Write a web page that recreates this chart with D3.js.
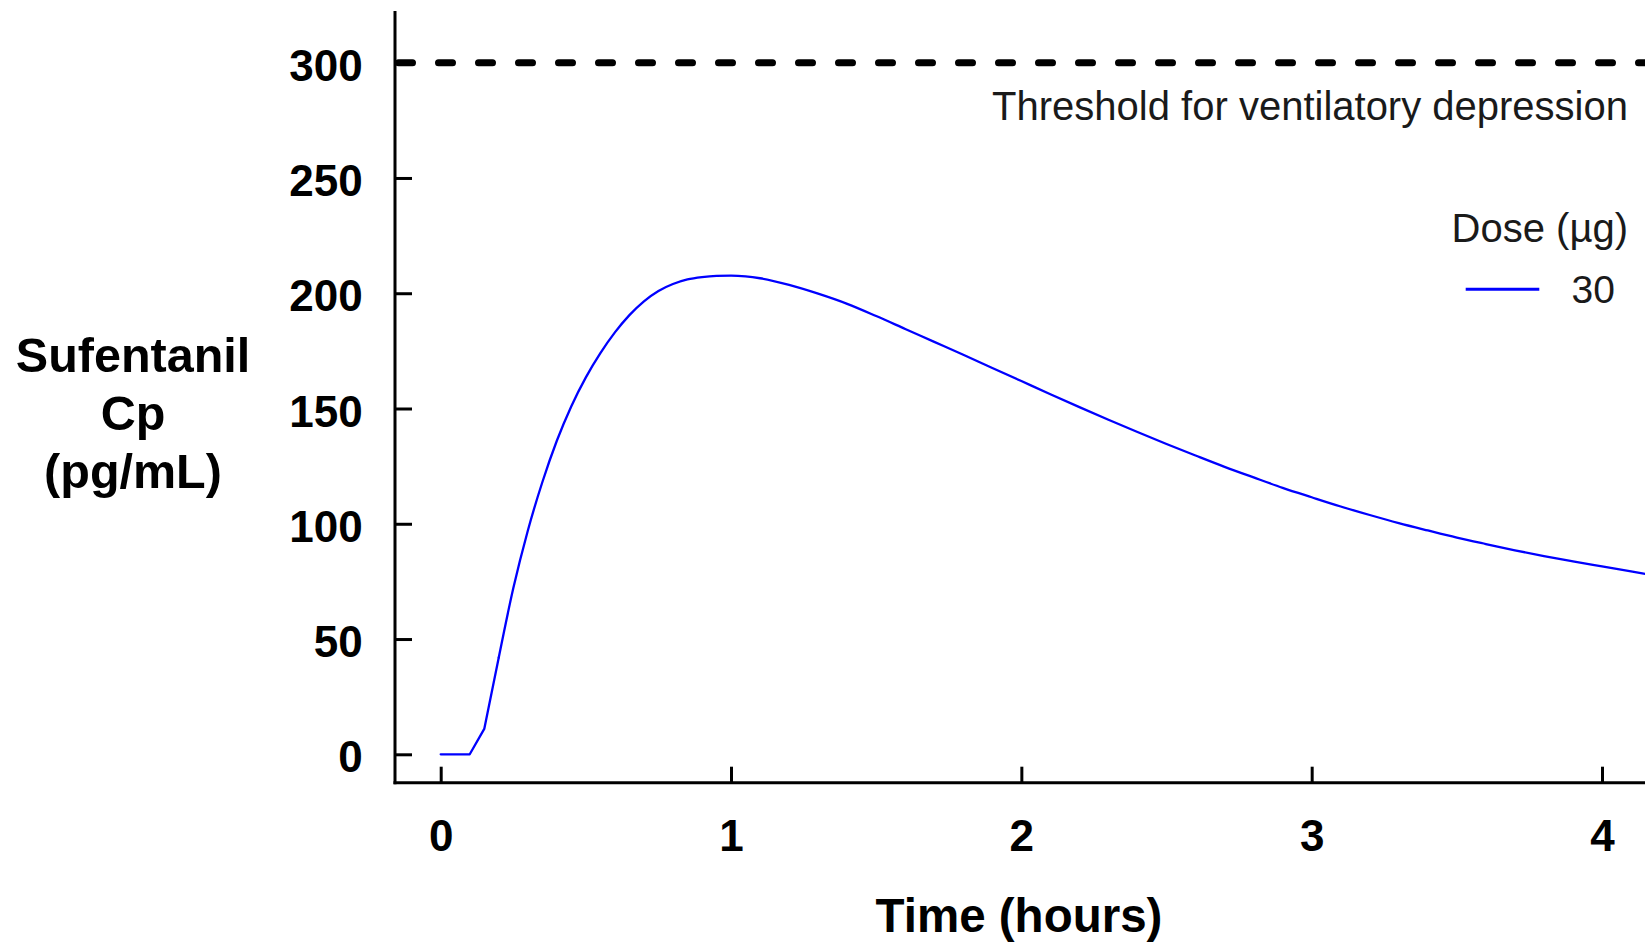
<!DOCTYPE html>
<html>
<head>
<meta charset="utf-8">
<script src="https://cdn.jsdelivr.net/npm/d3@7"></script>
<style>
  html, body { margin: 0; padding: 0; background: #fff; }
  svg { display: block; }
  text { font-family: Arial, "Liberation Sans", sans-serif; }
</style>
</head>
<body>
<svg id="chart" width="1645" height="943"></svg>
<script>
// Simulated sufentanil plasma concentration after a 30 µg dose
const timeHours = [
  0, 0.05, 0.10, 0.15, 0.20, 0.25, 0.30, 0.35, 0.40, 0.45, 0.50, 0.55, 0.60,
  0.65, 0.70, 0.75, 0.80, 0.85, 0.90, 0.95, 1.00, 1.05, 1.10, 1.20, 1.30, 1.40, 1.50,
  1.60, 1.70, 1.80, 1.90, 2.00, 2.10, 2.20, 2.30, 2.40, 2.50, 2.60, 2.70, 2.80,
  2.90, 3.00, 3.10, 3.20, 3.30, 3.40, 3.50, 3.60, 3.70, 3.80, 3.90, 4.00, 4.10, 4.15
];
const concentration = [
  0, 0, 0, 11, 42, 72, 97, 118, 136, 151, 163.5, 174, 183,
  190.5, 196.5, 201, 204, 206, 207, 207.5, 207.6, 207.3, 206.5, 203.6, 199.8, 195.4, 190.1,
  184.5, 178.9, 173.3, 167.6, 161.9, 156.2, 150.6, 145.1, 139.8, 134.6, 129.6, 124.7, 120.1,
  115.6, 111.5, 107.5, 103.8, 100.3, 97.1, 94.0, 91.2, 88.5, 86.0, 83.7, 81.5, 79.3, 78.2
];

const yTickValues = [0, 50, 100, 150, 200, 250, 300];
const xTickValues = [0, 1, 2, 3, 4];
const thresholdValue = 300;
const thresholdLabel = "Threshold for ventilatory depression";
const legendTitle = "Dose (µg)";
const doseLabels = ["30"];
const doseColors = ["#0000ff"];
const yTitleLines = ["Sufentanil", "Cp", "(pg/mL)"];
const xTitle = "Time (hours)";

const svg = d3.select("#chart");

// frame geometry
const axisX = 395;      // vertical axis line
const axisY = 782.7;    // horizontal axis line
const axisTop = 11;
const rightEdge = 1645;

const x = d3.scaleLinear().domain([0, 4]).range([440.7, 1602]);
const y = d3.scaleLinear().domain([0, 300]).range([754.3, 62.7]);

const points = timeHours.map((t, i) => ({ t, v: concentration[i] }));

// y axis
const yAxis = d3.axisLeft(y).tickValues(yTickValues).tickSize(-17).tickPadding(32.3);
const gy = svg.append("g").attr("transform", `translate(${axisX},0)`).call(yAxis);
gy.select(".domain").remove();
gy.selectAll(".tick line").attr("stroke", "#000").attr("stroke-width", 3);
gy.selectAll(".tick text")
  .attr("fill", "#000").attr("dy", "0.4em")
  .style("font-size", "44px").style("font-weight", "bold");

// x axis
const xAxis = d3.axisBottom(x).tickValues(xTickValues).tickFormat(d3.format("d"))
  .tickSize(-16).tickPadding(36.8);
const gx = svg.append("g").attr("transform", `translate(0,${axisY})`).call(xAxis);
gx.select(".domain").remove();
gx.selectAll(".tick line").attr("stroke", "#000").attr("stroke-width", 3);
gx.selectAll(".tick text")
  .attr("fill", "#000")
  .style("font-size", "44px").style("font-weight", "bold");

// axis lines
svg.append("line")
  .attr("x1", axisX).attr("x2", axisX).attr("y1", axisTop).attr("y2", axisY + 1.5)
  .attr("stroke", "#000").attr("stroke-width", 3);
svg.append("line")
  .attr("x1", axisX - 1.5).attr("x2", rightEdge).attr("y1", axisY).attr("y2", axisY)
  .attr("stroke", "#000").attr("stroke-width", 3);

// threshold line and label
svg.append("line")
  .attr("x1", axisX + 3.5).attr("x2", rightEdge)
  .attr("y1", y(thresholdValue)).attr("y2", y(thresholdValue))
  .attr("stroke", "#000").attr("stroke-width", 7)
  .attr("stroke-dasharray", "14,26").attr("stroke-linecap", "round");
svg.append("text")
  .attr("x", 1628).attr("y", 120)
  .attr("text-anchor", "end").attr("fill", "#1a1a1a")
  .style("font-size", "40px")
  .text(thresholdLabel);

// concentration curve: straight segments through the absorption lag,
// smooth monotone curve once absorption is under way
const lagEnd = 0.20;
const linePath = d3.line().x(d => x(d.t)).y(d => y(d.v));
const smoothPath = d3.line().curve(d3.curveMonotoneX).x(d => x(d.t)).y(d => y(d.v));
const curveG = svg.append("g")
  .attr("fill", "none")
  .attr("stroke", doseColors[0])
  .attr("stroke-width", 2.3)
  .attr("stroke-linejoin", "round")
  .attr("stroke-linecap", "round");
curveG.append("path").datum(points.filter(d => d.t <= lagEnd)).attr("d", linePath);
curveG.append("path").datum(points.filter(d => d.t >= lagEnd)).attr("d", smoothPath);

// legend
svg.append("text")
  .attr("x", 1628).attr("y", 242)
  .attr("text-anchor", "end").attr("fill", "#1a1a1a")
  .style("font-size", "40px")
  .text(legendTitle);
const legend = svg.append("g");
doseLabels.forEach((label, i) => {
  const ly = 289.3 + i * 58;
  legend.append("line")
    .attr("x1", 1465.7).attr("x2", 1539.3).attr("y1", ly).attr("y2", ly)
    .attr("stroke", doseColors[i]).attr("stroke-width", 3);
  legend.append("text")
    .attr("x", 1615).attr("y", ly + 14)
    .attr("text-anchor", "end").attr("fill", "#1a1a1a")
    .style("font-size", "39px")
    .text(label);
});

// axis titles
const yTitle = svg.append("text")
  .attr("text-anchor", "middle").attr("fill", "#000")
  .style("font-size", "48.5px").style("font-weight", "bold");
yTitleLines.forEach((s, i) => {
  yTitle.append("tspan").attr("x", 133).attr("y", 372 + i * 58).text(s);
});
svg.append("text")
  .attr("x", 1019).attr("y", 932)
  .attr("text-anchor", "middle").attr("fill", "#000")
  .style("font-size", "47.5px").style("font-weight", "bold")
  .text(xTitle);
</script>
</body>
</html>
